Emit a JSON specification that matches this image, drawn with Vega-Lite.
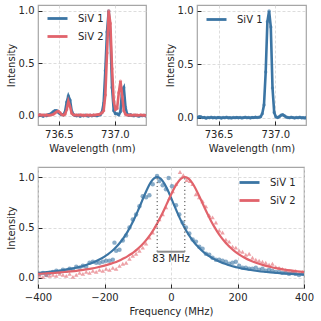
{
  "$schema": "https://vega.github.io/schema/vega-lite/v6.json",
  "padding": {"left": 5, "top": 4, "right": 2, "bottom": 2},
  "background": "white",
  "spacing": 12,
  "config": {
    "font": "DejaVu Sans",
    "view": {"stroke": "#a6a6a6", "strokeWidth": 1.2},
    "axis": {
      "labelFontSize": 10, "titleFontSize": 10, "titleFontWeight": "normal",
      "labelColor": "#262626", "titleColor": "#262626", "tickColor": "#262626",
      "domain": false, "tickSize": -4, "tickWidth": 1, "labelPadding": 8,
      "gridColor": "#d4d4d4", "gridDash": [3, 2], "gridWidth": 0.8, "labelFlush": false
    },
    "axisX": {"titlePadding": 4},
    "axisY": {"titlePadding": 2},
    "legend": {"labelFontSize": 10, "labelColor": "#262626", "symbolType": "stroke", "symbolStrokeWidth": 2.8, "symbolSize": 400, "labelOffset": 9, "padding": 0, "rowPadding": -3}
  },
  "datasets": {
    "specTL": [
      {"w":736.300,"v":0.005,"s":"SiV 1"},{"w":736.315,"v":0.0,"s":"SiV 1"},{"w":736.330,"v":0.008,"s":"SiV 1"},{"w":736.345,"v":0.003,"s":"SiV 1"},{"w":736.360,"v":-0.004,"s":"SiV 1"},{"w":736.375,"v":0.006,"s":"SiV 1"},{"w":736.390,"v":0.002,"s":"SiV 1"},{"w":736.405,"v":0.01,"s":"SiV 1"},{"w":736.420,"v":0.015,"s":"SiV 1"},{"w":736.435,"v":0.025,"s":"SiV 1"},{"w":736.450,"v":0.04,"s":"SiV 1"},{"w":736.465,"v":0.05,"s":"SiV 1"},{"w":736.480,"v":0.05,"s":"SiV 1"},{"w":736.495,"v":0.035,"s":"SiV 1"},{"w":736.510,"v":0.02,"s":"SiV 1"},{"w":736.525,"v":0.012,"s":"SiV 1"},{"w":736.540,"v":0.01,"s":"SiV 1"},{"w":736.555,"v":0.035,"s":"SiV 1"},{"w":736.570,"v":0.13,"s":"SiV 1"},{"w":736.585,"v":0.19,"s":"SiV 1"},{"w":736.600,"v":0.15,"s":"SiV 1"},{"w":736.615,"v":0.045,"s":"SiV 1"},{"w":736.630,"v":0.012,"s":"SiV 1"},{"w":736.645,"v":0.004,"s":"SiV 1"},{"w":736.660,"v":0.0,"s":"SiV 1"},{"w":736.675,"v":0.006,"s":"SiV 1"},{"w":736.690,"v":-0.003,"s":"SiV 1"},{"w":736.705,"v":0.004,"s":"SiV 1"},{"w":736.720,"v":0.0,"s":"SiV 1"},{"w":736.735,"v":0.007,"s":"SiV 1"},{"w":736.750,"v":0.002,"s":"SiV 1"},{"w":736.765,"v":-0.002,"s":"SiV 1"},{"w":736.780,"v":0.005,"s":"SiV 1"},{"w":736.795,"v":0.0,"s":"SiV 1"},{"w":736.810,"v":0.006,"s":"SiV 1"},{"w":736.825,"v":0.003,"s":"SiV 1"},{"w":736.840,"v":0.0,"s":"SiV 1"},{"w":736.855,"v":0.008,"s":"SiV 1"},{"w":736.870,"v":0.01,"s":"SiV 1"},{"w":736.885,"v":0.035,"s":"SiV 1"},{"w":736.900,"v":0.12,"s":"SiV 1"},{"w":736.915,"v":0.43,"s":"SiV 1"},{"w":736.930,"v":0.8,"s":"SiV 1"},{"w":736.945,"v":1.0,"s":"SiV 1"},{"w":736.960,"v":0.78,"s":"SiV 1"},{"w":736.975,"v":0.27,"s":"SiV 1"},{"w":736.990,"v":0.05,"s":"SiV 1"},{"w":737.005,"v":0.02,"s":"SiV 1"},{"w":737.020,"v":0.02,"s":"SiV 1"},{"w":737.035,"v":0.01,"s":"SiV 1"},{"w":737.050,"v":0.04,"s":"SiV 1"},{"w":737.065,"v":0.24,"s":"SiV 1"},{"w":737.080,"v":0.27,"s":"SiV 1"},{"w":737.095,"v":0.08,"s":"SiV 1"},{"w":737.110,"v":0.015,"s":"SiV 1"},{"w":737.125,"v":0.005,"s":"SiV 1"},{"w":737.140,"v":0.01,"s":"SiV 1"},{"w":737.155,"v":0.003,"s":"SiV 1"},{"w":737.170,"v":0.0,"s":"SiV 1"},{"w":737.185,"v":0.006,"s":"SiV 1"},{"w":737.200,"v":0.002,"s":"SiV 1"},{"w":737.215,"v":-0.003,"s":"SiV 1"},{"w":737.230,"v":0.004,"s":"SiV 1"},{"w":737.245,"v":0.001,"s":"SiV 1"},{"w":737.260,"v":0.005,"s":"SiV 1"},{"w":737.275,"v":0.0,"s":"SiV 1"},{"w":737.290,"v":0.003,"s":"SiV 1"},
      {"w":736.300,"v":0.008,"s":"SiV 2"},{"w":736.315,"v":0.004,"s":"SiV 2"},{"w":736.330,"v":0.01,"s":"SiV 2"},{"w":736.345,"v":0.005,"s":"SiV 2"},{"w":736.360,"v":0.008,"s":"SiV 2"},{"w":736.375,"v":0.003,"s":"SiV 2"},{"w":736.390,"v":0.009,"s":"SiV 2"},{"w":736.405,"v":0.006,"s":"SiV 2"},{"w":736.420,"v":0.008,"s":"SiV 2"},{"w":736.435,"v":0.01,"s":"SiV 2"},{"w":736.450,"v":0.015,"s":"SiV 2"},{"w":736.465,"v":0.028,"s":"SiV 2"},{"w":736.480,"v":0.04,"s":"SiV 2"},{"w":736.495,"v":0.045,"s":"SiV 2"},{"w":736.510,"v":0.03,"s":"SiV 2"},{"w":736.525,"v":0.012,"s":"SiV 2"},{"w":736.540,"v":0.008,"s":"SiV 2"},{"w":736.555,"v":0.015,"s":"SiV 2"},{"w":736.570,"v":0.06,"s":"SiV 2"},{"w":736.585,"v":0.14,"s":"SiV 2"},{"w":736.600,"v":0.09,"s":"SiV 2"},{"w":736.615,"v":0.025,"s":"SiV 2"},{"w":736.630,"v":0.01,"s":"SiV 2"},{"w":736.645,"v":0.006,"s":"SiV 2"},{"w":736.660,"v":0.008,"s":"SiV 2"},{"w":736.675,"v":0.004,"s":"SiV 2"},{"w":736.690,"v":0.009,"s":"SiV 2"},{"w":736.705,"v":0.005,"s":"SiV 2"},{"w":736.720,"v":0.007,"s":"SiV 2"},{"w":736.735,"v":0.003,"s":"SiV 2"},{"w":736.750,"v":0.008,"s":"SiV 2"},{"w":736.765,"v":0.005,"s":"SiV 2"},{"w":736.780,"v":0.007,"s":"SiV 2"},{"w":736.795,"v":0.004,"s":"SiV 2"},{"w":736.810,"v":0.008,"s":"SiV 2"},{"w":736.825,"v":0.006,"s":"SiV 2"},{"w":736.840,"v":0.01,"s":"SiV 2"},{"w":736.855,"v":0.012,"s":"SiV 2"},{"w":736.870,"v":0.018,"s":"SiV 2"},{"w":736.885,"v":0.03,"s":"SiV 2"},{"w":736.900,"v":0.05,"s":"SiV 2"},{"w":736.915,"v":0.2,"s":"SiV 2"},{"w":736.930,"v":0.6,"s":"SiV 2"},{"w":736.945,"v":1.0,"s":"SiV 2"},{"w":736.960,"v":0.88,"s":"SiV 2"},{"w":736.975,"v":0.45,"s":"SiV 2"},{"w":736.990,"v":0.14,"s":"SiV 2"},{"w":737.005,"v":0.06,"s":"SiV 2"},{"w":737.020,"v":0.07,"s":"SiV 2"},{"w":737.035,"v":0.22,"s":"SiV 2"},{"w":737.050,"v":0.33,"s":"SiV 2"},{"w":737.065,"v":0.2,"s":"SiV 2"},{"w":737.080,"v":0.05,"s":"SiV 2"},{"w":737.095,"v":0.015,"s":"SiV 2"},{"w":737.110,"v":0.008,"s":"SiV 2"},{"w":737.125,"v":0.006,"s":"SiV 2"},{"w":737.140,"v":0.009,"s":"SiV 2"},{"w":737.155,"v":0.004,"s":"SiV 2"},{"w":737.170,"v":0.008,"s":"SiV 2"},{"w":737.185,"v":0.005,"s":"SiV 2"},{"w":737.200,"v":0.007,"s":"SiV 2"},{"w":737.215,"v":0.004,"s":"SiV 2"},{"w":737.230,"v":0.008,"s":"SiV 2"},{"w":737.245,"v":0.005,"s":"SiV 2"},{"w":737.260,"v":0.006,"s":"SiV 2"},{"w":737.275,"v":0.004,"s":"SiV 2"},{"w":737.290,"v":0.007,"s":"SiV 2"}
    ],
    "specTR": [
      {"w":736.300,"v":0.006,"s":"SiV 1"},{"w":736.315,"v":0.004,"s":"SiV 1"},{"w":736.330,"v":0.012,"s":"SiV 1"},{"w":736.345,"v":0.01,"s":"SiV 1"},{"w":736.360,"v":0.003,"s":"SiV 1"},{"w":736.375,"v":0.005,"s":"SiV 1"},{"w":736.390,"v":-0.002,"s":"SiV 1"},{"w":736.405,"v":0.004,"s":"SiV 1"},{"w":736.420,"v":0.002,"s":"SiV 1"},{"w":736.435,"v":0.006,"s":"SiV 1"},{"w":736.450,"v":0.001,"s":"SiV 1"},{"w":736.465,"v":0.004,"s":"SiV 1"},{"w":736.480,"v":0.0,"s":"SiV 1"},{"w":736.495,"v":0.005,"s":"SiV 1"},{"w":736.510,"v":0.003,"s":"SiV 1"},{"w":736.525,"v":-0.001,"s":"SiV 1"},{"w":736.540,"v":0.004,"s":"SiV 1"},{"w":736.555,"v":0.002,"s":"SiV 1"},{"w":736.570,"v":0.006,"s":"SiV 1"},{"w":736.585,"v":0.001,"s":"SiV 1"},{"w":736.600,"v":0.003,"s":"SiV 1"},{"w":736.615,"v":0.0,"s":"SiV 1"},{"w":736.630,"v":0.004,"s":"SiV 1"},{"w":736.645,"v":0.002,"s":"SiV 1"},{"w":736.660,"v":0.005,"s":"SiV 1"},{"w":736.675,"v":0.001,"s":"SiV 1"},{"w":736.690,"v":0.004,"s":"SiV 1"},{"w":736.705,"v":0.0,"s":"SiV 1"},{"w":736.720,"v":0.003,"s":"SiV 1"},{"w":736.735,"v":0.006,"s":"SiV 1"},{"w":736.750,"v":0.002,"s":"SiV 1"},{"w":736.765,"v":0.004,"s":"SiV 1"},{"w":736.780,"v":0.0,"s":"SiV 1"},{"w":736.795,"v":0.005,"s":"SiV 1"},{"w":736.810,"v":0.003,"s":"SiV 1"},{"w":736.825,"v":0.007,"s":"SiV 1"},{"w":736.840,"v":0.004,"s":"SiV 1"},{"w":736.855,"v":0.006,"s":"SiV 1"},{"w":736.870,"v":0.01,"s":"SiV 1"},{"w":736.885,"v":0.04,"s":"SiV 1"},{"w":736.900,"v":0.12,"s":"SiV 1"},{"w":736.915,"v":0.43,"s":"SiV 1"},{"w":736.930,"v":0.9,"s":"SiV 1"},{"w":736.945,"v":1.0,"s":"SiV 1"},{"w":736.960,"v":0.85,"s":"SiV 1"},{"w":736.975,"v":0.28,"s":"SiV 1"},{"w":736.990,"v":0.05,"s":"SiV 1"},{"w":737.005,"v":0.01,"s":"SiV 1"},{"w":737.020,"v":0.004,"s":"SiV 1"},{"w":737.035,"v":0.012,"s":"SiV 1"},{"w":737.050,"v":0.025,"s":"SiV 1"},{"w":737.065,"v":0.03,"s":"SiV 1"},{"w":737.080,"v":0.02,"s":"SiV 1"},{"w":737.095,"v":0.008,"s":"SiV 1"},{"w":737.110,"v":0.005,"s":"SiV 1"},{"w":737.125,"v":0.002,"s":"SiV 1"},{"w":737.140,"v":0.006,"s":"SiV 1"},{"w":737.155,"v":0.003,"s":"SiV 1"},{"w":737.170,"v":0.0,"s":"SiV 1"},{"w":737.185,"v":0.004,"s":"SiV 1"},{"w":737.200,"v":0.002,"s":"SiV 1"},{"w":737.215,"v":0.006,"s":"SiV 1"},{"w":737.230,"v":0.001,"s":"SiV 1"},{"w":737.245,"v":0.003,"s":"SiV 1"},{"w":737.260,"v":0.0,"s":"SiV 1"},{"w":737.275,"v":0.004,"s":"SiV 1"},{"w":737.290,"v":0.002,"s":"SiV 1"}
    ],
    "fit": [
      {"f":-400,"v":0.0497,"s":"SiV 1"},{"f":-380,"v":0.0554,"s":"SiV 1"},{"f":-360,"v":0.0622,"s":"SiV 1"},{"f":-340,"v":0.0702,"s":"SiV 1"},{"f":-320,"v":0.0798,"s":"SiV 1"},{"f":-300,"v":0.0914,"s":"SiV 1"},{"f":-280,"v":0.1057,"s":"SiV 1"},{"f":-260,"v":0.1235,"s":"SiV 1"},{"f":-240,"v":0.1458,"s":"SiV 1"},{"f":-220,"v":0.1742,"s":"SiV 1"},{"f":-200,"v":0.2111,"s":"SiV 1"},{"f":-190,"v":0.2336,"s":"SiV 1"},{"f":-180,"v":0.2596,"s":"SiV 1"},{"f":-170,"v":0.2894,"s":"SiV 1"},{"f":-160,"v":0.3238,"s":"SiV 1"},{"f":-150,"v":0.3635,"s":"SiV 1"},{"f":-140,"v":0.4093,"s":"SiV 1"},{"f":-130,"v":0.4619,"s":"SiV 1"},{"f":-120,"v":0.5218,"s":"SiV 1"},{"f":-110,"v":0.589,"s":"SiV 1"},{"f":-100,"v":0.6627,"s":"SiV 1"},{"f":-90,"v":0.7408,"s":"SiV 1"},{"f":-80,"v":0.8194,"s":"SiV 1"},{"f":-70,"v":0.8922,"s":"SiV 1"},{"f":-60,"v":0.9516,"s":"SiV 1"},{"f":-50,"v":0.9894,"s":"SiV 1"},{"f":-41.5,"v":1.0,"s":"SiV 1"},{"f":-30,"v":0.9807,"s":"SiV 1"},{"f":-20,"v":0.9357,"s":"SiV 1"},{"f":-10,"v":0.8714,"s":"SiV 1"},{"f":0,"v":0.7961,"s":"SiV 1"},{"f":10,"v":0.7172,"s":"SiV 1"},{"f":20,"v":0.64,"s":"SiV 1"},{"f":30,"v":0.5681,"s":"SiV 1"},{"f":40,"v":0.5031,"s":"SiV 1"},{"f":50,"v":0.4454,"s":"SiV 1"},{"f":60,"v":0.3949,"s":"SiV 1"},{"f":70,"v":0.351,"s":"SiV 1"},{"f":80,"v":0.3129,"s":"SiV 1"},{"f":90,"v":0.28,"s":"SiV 1"},{"f":100,"v":0.2514,"s":"SiV 1"},{"f":110,"v":0.2266,"s":"SiV 1"},{"f":120,"v":0.205,"s":"SiV 1"},{"f":130,"v":0.1861,"s":"SiV 1"},{"f":140,"v":0.1695,"s":"SiV 1"},{"f":150,"v":0.1549,"s":"SiV 1"},{"f":160,"v":0.1421,"s":"SiV 1"},{"f":170,"v":0.1307,"s":"SiV 1"},{"f":180,"v":0.1205,"s":"SiV 1"},{"f":190,"v":0.1115,"s":"SiV 1"},{"f":200,"v":0.1034,"s":"SiV 1"},{"f":220,"v":0.0895,"s":"SiV 1"},{"f":240,"v":0.0782,"s":"SiV 1"},{"f":260,"v":0.0689,"s":"SiV 1"},{"f":280,"v":0.0611,"s":"SiV 1"},{"f":300,"v":0.0545,"s":"SiV 1"},{"f":320,"v":0.0489,"s":"SiV 1"},{"f":340,"v":0.0442,"s":"SiV 1"},{"f":360,"v":0.04,"s":"SiV 1"},{"f":380,"v":0.0365,"s":"SiV 1"},{"f":400,"v":0.0333,"s":"SiV 1"},
      {"f":-400,"v":0.0399,"s":"SiV 2"},{"f":-380,"v":0.0436,"s":"SiV 2"},{"f":-360,"v":0.0478,"s":"SiV 2"},{"f":-340,"v":0.0527,"s":"SiV 2"},{"f":-320,"v":0.0584,"s":"SiV 2"},{"f":-300,"v":0.0649,"s":"SiV 2"},{"f":-280,"v":0.0727,"s":"SiV 2"},{"f":-260,"v":0.0818,"s":"SiV 2"},{"f":-240,"v":0.0927,"s":"SiV 2"},{"f":-220,"v":0.1059,"s":"SiV 2"},{"f":-200,"v":0.122,"s":"SiV 2"},{"f":-190,"v":0.1313,"s":"SiV 2"},{"f":-180,"v":0.1417,"s":"SiV 2"},{"f":-170,"v":0.1533,"s":"SiV 2"},{"f":-160,"v":0.1663,"s":"SiV 2"},{"f":-150,"v":0.1809,"s":"SiV 2"},{"f":-140,"v":0.1974,"s":"SiV 2"},{"f":-130,"v":0.2159,"s":"SiV 2"},{"f":-120,"v":0.237,"s":"SiV 2"},{"f":-110,"v":0.2608,"s":"SiV 2"},{"f":-100,"v":0.288,"s":"SiV 2"},{"f":-90,"v":0.319,"s":"SiV 2"},{"f":-80,"v":0.3543,"s":"SiV 2"},{"f":-70,"v":0.3945,"s":"SiV 2"},{"f":-60,"v":0.4401,"s":"SiV 2"},{"f":-50,"v":0.4917,"s":"SiV 2"},{"f":-40,"v":0.5495,"s":"SiV 2"},{"f":-30,"v":0.6131,"s":"SiV 2"},{"f":-20,"v":0.6817,"s":"SiV 2"},{"f":-10,"v":0.7534,"s":"SiV 2"},{"f":0,"v":0.8247,"s":"SiV 2"},{"f":10,"v":0.8909,"s":"SiV 2"},{"f":20,"v":0.946,"s":"SiV 2"},{"f":30,"v":0.9839,"s":"SiV 2"},{"f":41.5,"v":1.0,"s":"SiV 2"},{"f":50,"v":0.9912,"s":"SiV 2"},{"f":60,"v":0.9595,"s":"SiV 2"},{"f":70,"v":0.9089,"s":"SiV 2"},{"f":80,"v":0.8453,"s":"SiV 2"},{"f":90,"v":0.775,"s":"SiV 2"},{"f":100,"v":0.703,"s":"SiV 2"},{"f":110,"v":0.6332,"s":"SiV 2"},{"f":120,"v":0.5679,"s":"SiV 2"},{"f":130,"v":0.5084,"s":"SiV 2"},{"f":140,"v":0.455,"s":"SiV 2"},{"f":150,"v":0.4076,"s":"SiV 2"},{"f":160,"v":0.3658,"s":"SiV 2"},{"f":170,"v":0.3291,"s":"SiV 2"},{"f":180,"v":0.2969,"s":"SiV 2"},{"f":190,"v":0.2686,"s":"SiV 2"},{"f":200,"v":0.2438,"s":"SiV 2"},{"f":220,"v":0.2027,"s":"SiV 2"},{"f":240,"v":0.1705,"s":"SiV 2"},{"f":260,"v":0.145,"s":"SiV 2"},{"f":280,"v":0.1246,"s":"SiV 2"},{"f":300,"v":0.1081,"s":"SiV 2"},{"f":320,"v":0.0946,"s":"SiV 2"},{"f":340,"v":0.0833,"s":"SiV 2"},{"f":360,"v":0.0739,"s":"SiV 2"},{"f":380,"v":0.066,"s":"SiV 2"},{"f":400,"v":0.0593,"s":"SiV 2"}
    ],
    "pts": [
      {"f":-395,"v":0.04,"s":"SiV 1"},{"f":-385,"v":0.05,"s":"SiV 1"},{"f":-375,"v":0.03,"s":"SiV 1"},{"f":-365,"v":0.05,"s":"SiV 1"},{"f":-355,"v":0.06,"s":"SiV 1"},{"f":-345,"v":0.07,"s":"SiV 1"},{"f":-335,"v":0.06,"s":"SiV 1"},{"f":-325,"v":0.08,"s":"SiV 1"},{"f":-315,"v":0.07,"s":"SiV 1"},{"f":-305,"v":0.09,"s":"SiV 1"},{"f":-295,"v":0.08,"s":"SiV 1"},{"f":-285,"v":0.11,"s":"SiV 1"},{"f":-275,"v":0.1,"s":"SiV 1"},{"f":-265,"v":0.12,"s":"SiV 1"},{"f":-255,"v":0.11,"s":"SiV 1"},{"f":-245,"v":0.15,"s":"SiV 1"},{"f":-235,"v":0.16,"s":"SiV 1"},{"f":-225,"v":0.15,"s":"SiV 1"},{"f":-215,"v":0.15,"s":"SiV 1"},{"f":-205,"v":0.16,"s":"SiV 1"},{"f":-195,"v":0.17,"s":"SiV 1"},{"f":-185,"v":0.17,"s":"SiV 1"},{"f":-175,"v":0.18,"s":"SiV 1"},{"f":-170,"v":0.35,"s":"SiV 1"},{"f":-165,"v":0.27,"s":"SiV 1"},{"f":-155,"v":0.28,"s":"SiV 1"},{"f":-145,"v":0.37,"s":"SiV 1"},{"f":-135,"v":0.42,"s":"SiV 1"},{"f":-125,"v":0.5,"s":"SiV 1"},{"f":-115,"v":0.58,"s":"SiV 1"},{"f":-105,"v":0.63,"s":"SiV 1"},{"f":-95,"v":0.71,"s":"SiV 1"},{"f":-85,"v":0.81,"s":"SiV 1"},{"f":-75,"v":0.8,"s":"SiV 1"},{"f":-65,"v":0.82,"s":"SiV 1"},{"f":-55,"v":0.93,"s":"SiV 1"},{"f":-42,"v":1.01,"s":"SiV 1"},{"f":-35,"v":0.96,"s":"SiV 1"},{"f":-25,"v":0.92,"s":"SiV 1"},{"f":-15,"v":0.88,"s":"SiV 1"},{"f":-7,"v":0.99,"s":"SiV 1"},{"f":3,"v":0.91,"s":"SiV 1"},{"f":15,"v":0.72,"s":"SiV 1"},{"f":25,"v":0.63,"s":"SiV 1"},{"f":35,"v":0.55,"s":"SiV 1"},{"f":45,"v":0.5,"s":"SiV 1"},{"f":55,"v":0.44,"s":"SiV 1"},{"f":65,"v":0.38,"s":"SiV 1"},{"f":75,"v":0.36,"s":"SiV 1"},{"f":85,"v":0.31,"s":"SiV 1"},{"f":95,"v":0.29,"s":"SiV 1"},{"f":105,"v":0.24,"s":"SiV 1"},{"f":115,"v":0.23,"s":"SiV 1"},{"f":125,"v":0.2,"s":"SiV 1"},{"f":135,"v":0.18,"s":"SiV 1"},{"f":145,"v":0.18,"s":"SiV 1"},{"f":155,"v":0.17,"s":"SiV 1"},{"f":165,"v":0.16,"s":"SiV 1"},{"f":175,"v":0.14,"s":"SiV 1"},{"f":185,"v":0.15,"s":"SiV 1"},{"f":195,"v":0.16,"s":"SiV 1"},{"f":205,"v":0.12,"s":"SiV 1"},{"f":215,"v":0.1,"s":"SiV 1"},{"f":225,"v":0.1,"s":"SiV 1"},{"f":235,"v":0.09,"s":"SiV 1"},{"f":245,"v":0.09,"s":"SiV 1"},{"f":255,"v":0.1,"s":"SiV 1"},{"f":265,"v":0.08,"s":"SiV 1"},{"f":275,"v":0.09,"s":"SiV 1"},{"f":285,"v":0.07,"s":"SiV 1"},{"f":295,"v":0.08,"s":"SiV 1"},{"f":305,"v":0.07,"s":"SiV 1"},{"f":315,"v":0.06,"s":"SiV 1"},{"f":325,"v":0.06,"s":"SiV 1"},{"f":335,"v":0.05,"s":"SiV 1"},{"f":345,"v":0.05,"s":"SiV 1"},{"f":355,"v":0.04,"s":"SiV 1"},{"f":365,"v":0.05,"s":"SiV 1"},{"f":375,"v":0.04,"s":"SiV 1"},{"f":385,"v":0.03,"s":"SiV 1"},{"f":395,"v":0.04,"s":"SiV 1"},
      {"f":-395,"v":0.02,"s":"SiV 2"},{"f":-385,"v":0.01,"s":"SiV 2"},{"f":-375,"v":0.03,"s":"SiV 2"},{"f":-365,"v":0.02,"s":"SiV 2"},{"f":-355,"v":0.03,"s":"SiV 2"},{"f":-345,"v":0.02,"s":"SiV 2"},{"f":-335,"v":0.04,"s":"SiV 2"},{"f":-325,"v":0.03,"s":"SiV 2"},{"f":-315,"v":0.02,"s":"SiV 2"},{"f":-305,"v":0.04,"s":"SiV 2"},{"f":-295,"v":0.01,"s":"SiV 2"},{"f":-285,"v":0.03,"s":"SiV 2"},{"f":-275,"v":0.05,"s":"SiV 2"},{"f":-265,"v":0.04,"s":"SiV 2"},{"f":-255,"v":0.06,"s":"SiV 2"},{"f":-245,"v":0.05,"s":"SiV 2"},{"f":-235,"v":0.07,"s":"SiV 2"},{"f":-225,"v":0.06,"s":"SiV 2"},{"f":-215,"v":0.08,"s":"SiV 2"},{"f":-205,"v":0.07,"s":"SiV 2"},{"f":-195,"v":0.09,"s":"SiV 2"},{"f":-185,"v":0.08,"s":"SiV 2"},{"f":-175,"v":0.1,"s":"SiV 2"},{"f":-165,"v":0.09,"s":"SiV 2"},{"f":-155,"v":0.12,"s":"SiV 2"},{"f":-145,"v":0.14,"s":"SiV 2"},{"f":-135,"v":0.15,"s":"SiV 2"},{"f":-125,"v":0.19,"s":"SiV 2"},{"f":-115,"v":0.22,"s":"SiV 2"},{"f":-105,"v":0.24,"s":"SiV 2"},{"f":-95,"v":0.27,"s":"SiV 2"},{"f":-85,"v":0.3,"s":"SiV 2"},{"f":-75,"v":0.34,"s":"SiV 2"},{"f":-65,"v":0.4,"s":"SiV 2"},{"f":-55,"v":0.45,"s":"SiV 2"},{"f":-45,"v":0.52,"s":"SiV 2"},{"f":-35,"v":0.58,"s":"SiV 2"},{"f":-25,"v":0.63,"s":"SiV 2"},{"f":-15,"v":0.7,"s":"SiV 2"},{"f":-5,"v":0.79,"s":"SiV 2"},{"f":5,"v":0.86,"s":"SiV 2"},{"f":15,"v":0.93,"s":"SiV 2"},{"f":27,"v":1.05,"s":"SiV 2"},{"f":37,"v":1.02,"s":"SiV 2"},{"f":47,"v":0.97,"s":"SiV 2"},{"f":57,"v":0.96,"s":"SiV 2"},{"f":65,"v":0.93,"s":"SiV 2"},{"f":75,"v":0.83,"s":"SiV 2"},{"f":85,"v":0.8,"s":"SiV 2"},{"f":95,"v":0.76,"s":"SiV 2"},{"f":105,"v":0.71,"s":"SiV 2"},{"f":115,"v":0.62,"s":"SiV 2"},{"f":125,"v":0.6,"s":"SiV 2"},{"f":135,"v":0.55,"s":"SiV 2"},{"f":145,"v":0.47,"s":"SiV 2"},{"f":155,"v":0.45,"s":"SiV 2"},{"f":165,"v":0.38,"s":"SiV 2"},{"f":175,"v":0.36,"s":"SiV 2"},{"f":185,"v":0.31,"s":"SiV 2"},{"f":195,"v":0.3,"s":"SiV 2"},{"f":205,"v":0.27,"s":"SiV 2"},{"f":215,"v":0.26,"s":"SiV 2"},{"f":225,"v":0.23,"s":"SiV 2"},{"f":235,"v":0.24,"s":"SiV 2"},{"f":245,"v":0.2,"s":"SiV 2"},{"f":255,"v":0.18,"s":"SiV 2"},{"f":265,"v":0.17,"s":"SiV 2"},{"f":275,"v":0.16,"s":"SiV 2"},{"f":285,"v":0.15,"s":"SiV 2"},{"f":295,"v":0.13,"s":"SiV 2"},{"f":305,"v":0.14,"s":"SiV 2"},{"f":315,"v":0.11,"s":"SiV 2"},{"f":325,"v":0.1,"s":"SiV 2"},{"f":335,"v":0.09,"s":"SiV 2"},{"f":345,"v":0.08,"s":"SiV 2"},{"f":355,"v":0.07,"s":"SiV 2"},{"f":365,"v":0.06,"s":"SiV 2"},{"f":375,"v":0.07,"s":"SiV 2"},{"f":385,"v":0.05,"s":"SiV 2"},{"f":395,"v":0.06,"s":"SiV 2"}
    ],
    "vlines": [{"f": -41.5, "lo": 0.26, "hi": 1.0}, {"f": 41.5, "lo": 0.26, "hi": 1.0}],
    "hline": [{"a": -41.5, "b": 41.5, "y": 0.26}],
    "lbl": [{"f": 0, "y": 0.19, "t": "83 MHz"}]
  },
  "vconcat": [
    {
      "hconcat": [
        {
          "width": 108, "height": 120,
          "data": {"name": "specTL"},
          "encoding": {
            "x": {"field": "w", "type": "quantitative", "scale": {"domain": [736.314, 737.278], "nice": false, "zero": false},
                  "axis": {"title": "Wavelength (nm)", "values": [736.5, 737.0], "format": ".1f"}},
            "y": {"field": "v", "type": "quantitative", "scale": {"domain": [-0.087, 1.057], "nice": false, "zero": false},
                  "axis": {"title": "Intensity", "values": [0, 0.5, 1.0], "format": ".1f"}}
          },
          "layer": [
            {"mark": {"type": "point", "filled": true, "size": 12, "opacity": 0.6, "clip": true},
             "encoding": {"fill": {"field": "s", "type": "nominal", "scale": {"range": ["#3b75a4", "#e1636b"]}, "legend": null}}},
            {"mark": {"type": "line", "strokeWidth": 2.6, "clip": true},
             "encoding": {"color": {"field": "s", "type": "nominal", "scale": {"domain": ["SiV 1", "SiV 2"], "range": ["#3b75a4", "#e1636b"]},
                          "legend": {"title": null, "orient": "none", "legendX": 8, "legendY": 2}}}}
          ]
        },
        {
          "width": 109, "height": 120,
          "data": {"name": "specTR"},
          "encoding": {
            "x": {"field": "w", "type": "quantitative", "scale": {"domain": [736.31, 737.27], "nice": false, "zero": false},
                  "axis": {"title": "Wavelength (nm)", "values": [736.5, 737.0], "format": ".1f"}},
            "y": {"field": "v", "type": "quantitative", "scale": {"domain": [-0.066, 1.056], "nice": false, "zero": false},
                  "axis": {"title": "Intensity", "values": [0, 0.5, 1.0], "format": ".1f"}}
          },
          "layer": [
            {"mark": {"type": "point", "filled": true, "size": 12, "opacity": 0.6, "clip": true},
             "encoding": {"fill": {"field": "s", "type": "nominal", "scale": {"range": ["#3b75a4"]}, "legend": null}}},
            {"mark": {"type": "line", "strokeWidth": 2.6, "clip": true},
             "encoding": {"color": {"field": "s", "type": "nominal", "scale": {"domain": ["SiV 1"], "range": ["#3b75a4"]},
                          "legend": {"title": null, "orient": "none", "legendX": 8, "legendY": 3}}}}
          ]
        }
      ],
      "spacing": 17,
      "resolve": {"scale": {"color": "independent", "fill": "independent", "x": "independent", "y": "independent"}, "legend": {"color": "independent", "fill": "independent"}}
    },
    {
      "width": 266, "height": 121,
      "layer": [
        {"data": {"name": "pts"},
         "mark": {"type": "point", "filled": true, "size": 20, "opacity": 0.6, "clip": true},
         "encoding": {
           "x": {"field": "f", "type": "quantitative", "scale": {"domain": [-400, 400], "nice": false, "zero": false},
                 "axis": {"title": "Frequency (MHz)", "values": [-400, -200, 0, 200, 400]}},
           "y": {"field": "v", "type": "quantitative", "scale": {"domain": [-0.1, 1.1], "nice": false, "zero": false},
                 "axis": {"title": "Intensity", "values": [0, 0.5, 1.0], "format": ".1f"}},
           "fill": {"field": "s", "type": "nominal", "scale": {"range": ["#3b75a4", "#e1636b"]}, "legend": null},
           "shape": {"field": "s", "type": "nominal", "scale": {"range": ["circle", "triangle-up"]}, "legend": null}
         }},
        {"data": {"name": "fit"},
         "mark": {"type": "line", "strokeWidth": 2.2, "interpolate": "monotone", "clip": true},
         "encoding": {
           "x": {"field": "f", "type": "quantitative"},
           "y": {"field": "v", "type": "quantitative"},
           "color": {"field": "s", "type": "nominal", "scale": {"domain": ["SiV 1", "SiV 2"], "range": ["#3b75a4", "#e1636b"]},
                     "legend": {"title": null, "orient": "none", "legendX": 200, "legendY": 4, "rowPadding": -5}}
         }},
        {"data": {"name": "vlines"},
         "mark": {"type": "rule", "color": "#555555", "strokeWidth": 1.1, "strokeDash": [1.2, 2.6]},
         "encoding": {"x": {"field": "f", "type": "quantitative"}, "y": {"field": "lo", "type": "quantitative"}, "y2": {"field": "hi"}}},
        {"data": {"name": "hline"},
         "mark": {"type": "rule", "color": "#8c8c8c", "strokeWidth": 2},
         "encoding": {"x": {"field": "a", "type": "quantitative"}, "x2": {"field": "b"}, "y": {"field": "y", "type": "quantitative"}}},
        {"data": {"name": "lbl"},
         "mark": {"type": "text", "fontSize": 10, "color": "#262626", "baseline": "middle", "align": "center"},
         "encoding": {"x": {"field": "f", "type": "quantitative"}, "y": {"field": "y", "type": "quantitative"}, "text": {"field": "t"}}}
      ]
    }
  ],
  "resolve": {"scale": {"color": "independent", "fill": "independent", "x": "independent", "y": "independent"}, "legend": {"color": "independent", "fill": "independent"}}
}
